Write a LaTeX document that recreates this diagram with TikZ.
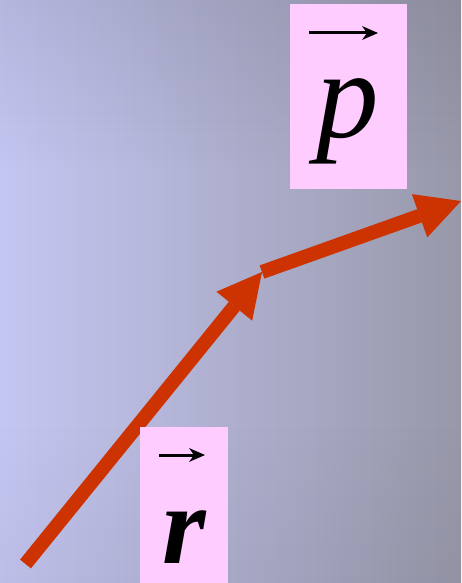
\documentclass[tikz,border=0pt]{standalone}
\usepackage{fontspec}
\setmainfont{Liberation Serif}
\usetikzlibrary{arrows.meta,fadings}
\definecolor{arrowred}{RGB}{204,51,0}
\definecolor{labelpink}{RGB}{255,204,255}
\definecolor{bgleft}{RGB}{196,198,242}
\definecolor{bgmid}{RGB}{180,180,216}
\definecolor{bgright}{RGB}{152,152,170}
\tikzfading[name=fadedown, top color=transparent!0, bottom color=transparent!100]
\tikzfading[name=fadeup, top color=transparent!100, bottom color=transparent!0]
\tikzset{
  vecarrow/.style={draw=arrowred, line width=14pt, line cap=butt,
    -{Triangle[length=44pt,width=46pt,line width=0pt]}},
  labelbox/.style={fill=labelpink, draw=none, inner sep=0pt, anchor=north west},
  pletterstyle/.style={inner sep=0pt, font=\fontsize{125}{125}\selectfont\itshape},
  rletterstyle/.style={inner sep=0pt, font=\fontsize{112}{112}\selectfont\bfseries\itshape},
  vecmark/.style={line width=3pt, -{Stealth[length=16pt,width=14pt,inset=5pt,line width=0pt]}}
}
\begin{document}
\begin{tikzpicture}[x=1pt,y=-1pt]
\useasboundingbox (0,0) rectangle (461,583);
\shade[left color=bgleft, middle color=bgmid, right color=bgright] (0,0) rectangle (461,583);
\fill[black,opacity=0.08,path fading=fadedown] (0,0) rectangle (461,170);
\fill[black,opacity=0.04,path fading=fadeup] (0,420) rectangle (461,583);
% vectors
\coordinate (O) at (25.5,564);
\coordinate (A) at (262,272);
\coordinate (B) at (461,201);
\draw[vecarrow] (O) -- (A);
\draw[vecarrow] (A) -- (B);
% label boxes
\node[labelbox, minimum width=117pt, minimum height=185pt] (pbox) at (290,4) {};
\node[labelbox, minimum width=88pt, minimum height=160pt] (rbox) at (140,427) {};
% letters
\node[pletterstyle, anchor=base] (pletter) at (348,137) {p};
\node[rletterstyle, anchor=base] (rletter) at (184,563) {r};
% vector marks
\coordinate (pv1) at (309,33);
\coordinate (pv2) at (378,33);
\draw[vecmark] (pv1) -- (pv2);
\coordinate (rv1) at (159,455);
\coordinate (rv2) at (205,455);
\draw[vecmark] (rv1) -- (rv2);
\end{tikzpicture}
\end{document}
